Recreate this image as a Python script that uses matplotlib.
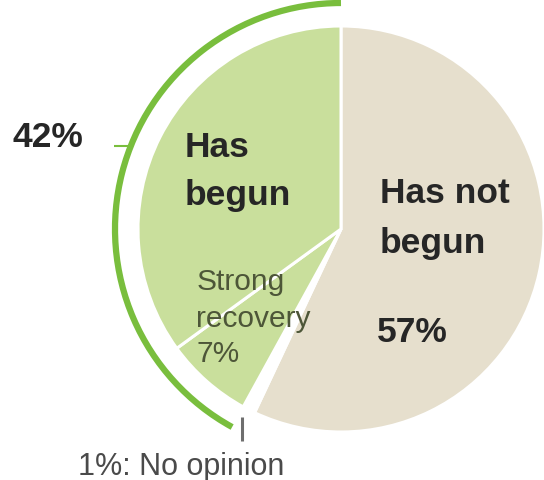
import matplotlib
matplotlib.use("Agg")
import matplotlib.pyplot as plt
from matplotlib.patches import Arc
import numpy as np

# Survey shares (percent), drawn clockwise from 12 o'clock
categories = ["Has not begun", "No opinion", "Strong recovery", "Has begun"]
values = [57, 1, 7, 35]
slice_colors = ["#e6dfcd", "#ffffff", "#c9df9c", "#c9df9c"]

begun_total = 42          # "Has begun" incl. strong recovery
begun_label = "42%"
not_begun_label = "57%"
strong_label = "7%"
no_opinion_label = "1%: No opinion"

W, H = 544, 481
fig = plt.figure(figsize=(W / 100, H / 100), dpi=100)
ax = fig.add_axes([0, 0, 1, 1])

cx, cy, r = 341, 251, 203
ax.pie(values, colors=slice_colors, startangle=90, counterclock=False,
       radius=r, center=(cx, cy),
       wedgeprops=dict(edgecolor="white", linewidth=2.2))

ax.set_xlim(0, W)
ax.set_ylim(0, H)
ax.set_aspect("equal")
ax.axis("off")

# Outer bracket spanning the "has begun" share
arc_r = 226
span = begun_total / 100 * 360
ax.add_patch(Arc((cx, cy), 2 * arc_r, 2 * arc_r, theta1=90, theta2=90 + span,
                 color="#79be3d", linewidth=4.5, capstyle="butt"))

# Small tick from the bracket toward the 42% label
tick_ang = np.deg2rad(158.5)
tx, ty = cx + arc_r * np.cos(tick_ang), cy + arc_r * np.sin(tick_ang)
ax.plot([tx, tx - 17], [ty, ty], color="#79be3d", linewidth=1.5,
        solid_capstyle="butt")

# Tick pointing at the thin no-opinion gap
ax.plot([242, 242], [39, 63], color="#6e6e6e", linewidth=2.2,
        solid_capstyle="butt")

font = "Liberation Sans"
dark = "#262626"
bold_size = 25.5

ax.text(12, 334, begun_label, fontsize=bold_size, fontweight="bold",
        color=dark, family=font, va="baseline", ha="left")

ax.text(185, 324, "Has", fontsize=bold_size, fontweight="bold", color=dark,
        family=font, va="baseline", ha="left")
ax.text(185, 276, "begun", fontsize=bold_size, fontweight="bold", color=dark,
        family=font, va="baseline", ha="left")

ax.text(380, 278, "Has not", fontsize=bold_size, fontweight="bold",
        color=dark, family=font, va="baseline", ha="left")
ax.text(380, 228, "begun", fontsize=bold_size, fontweight="bold", color=dark,
        family=font, va="baseline", ha="left")
ax.text(377, 139, not_begun_label, fontsize=bold_size, fontweight="bold",
        color=dark, family=font, va="baseline", ha="left")

olive = "#4d5638"
ax.text(197, 191, "Strong", fontsize=21.5, color=olive, family=font,
        va="baseline", ha="left")
ax.text(196, 154, "recovery", fontsize=21.5, color=olive, family=font,
        va="baseline", ha="left")
ax.text(196, 119, strong_label, fontsize=21.5, color=olive, family=font,
        va="baseline", ha="left")

ax.text(78, 6, no_opinion_label, fontsize=22, color="#4a4a4a", family=font,
        va="baseline", ha="left")

fig.savefig("out.png", dpi=100)
